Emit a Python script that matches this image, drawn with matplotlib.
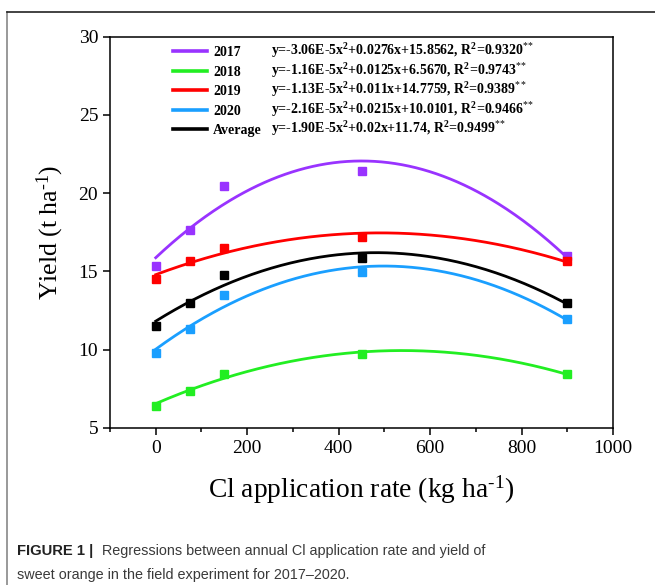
import numpy as np
import matplotlib
matplotlib.use("Agg")
import matplotlib.pyplot as plt
from matplotlib.lines import Line2D
from matplotlib.ticker import MultipleLocator

plt.rcParams['mathtext.fontset'] = 'custom'
plt.rcParams['mathtext.rm'] = 'Liberation Serif'
plt.rcParams['mathtext.it'] = 'Liberation Serif:italic'
plt.rcParams['mathtext.bf'] = 'Liberation Serif:bold'

# ---- data ----
cl_rate = [0, 75, 150, 450, 900]
series_names = ["2017", "2018", "2019", "2020", "Average"]
y2017 = [15.32, 17.66, 20.47, 21.45, 16.00]
y2018 = [6.43, 7.39, 8.47, 9.71, 8.45]
y2019 = [14.51, 15.70, 16.49, 17.23, 15.64]
y2020 = [9.77, 11.30, 13.51, 14.94, 11.96]
yavg = [11.53, 13.00, 14.77, 15.85, 12.98]
SS = r"$^{*}$$^{*}$"
equations = [
    r"y=-3.06E-5x$^{\mathbf{2}}$+0.0276x+15.8562, R$^{\mathbf{2}}$=0.9320" + SS,
    r"y=-1.16E-5x$^{\mathbf{2}}$+0.0125x+6.5670, R$^{\mathbf{2}}$=0.9743" + SS,
    r"y=-1.13E-5x$^{\mathbf{2}}$+0.011x+14.7759, R$^{\mathbf{2}}$=0.9389" + SS,
    r"y=-2.16E-5x$^{\mathbf{2}}$+0.0215x+10.0101, R$^{\mathbf{2}}$=0.9466" + SS,
    r"y=-1.90E-5x$^{\mathbf{2}}$+0.02x+11.74, R$^{\mathbf{2}}$=0.9499" + SS,
]
xticks = [0, 200, 400, 600, 800, 1000]
yticks = [5, 10, 15, 20, 25, 30]

colors = ['#9933ff', '#22ee22', '#ff0000', '#1a9fff', '#000000']
all_y = [y2017, y2018, y2019, y2020, yavg]

fig = plt.figure(figsize=(6.55, 5.85), dpi=100)
ax_h = 391.3
ax = fig.add_axes([110/655, 157/585, 503/655, ax_h/585])

handles = []
xs = np.array(cl_rate, dtype=float)
xfine = np.linspace(0, 900, 300)
for ys, c, name in zip(all_y, colors, series_names):
    ax.plot(cl_rate, ys, 's', color=c, markersize=6.3, zorder=3)
    coef = np.polyfit(xs, np.array(ys), 2)
    ax.plot(xfine, np.polyval(coef, xfine), '-', color=c, lw=2.0, zorder=2)
    handles.append(Line2D([], [], color=c, lw=2.6))

ax.set_xlim(-100, 1000)
ax.set_ylim(5, 30)
ax.set_xticks(xticks)
ax.set_yticks(yticks)
ax.xaxis.set_minor_locator(MultipleLocator(100))
ax.tick_params(axis='both', which='major', direction='out', length=5, width=1.1,
               labelsize=14)
ax.tick_params(axis='x', which='minor', direction='out', length=3, width=1.1)
for lab in ax.get_xticklabels() + ax.get_yticklabels():
    lab.set_fontfamily('Liberation Serif')
for s in ax.spines.values():
    s.set_linewidth(1.1)

ax.set_xlabel(r"Cl application rate (kg ha$^{\text{-}1}$)", fontsize=19.8,
              fontfamily='Liberation Serif', labelpad=12)
ax.set_ylabel(r"Yield (t ha$^{\text{-}1}$)", fontsize=18.5,
              fontfamily='Liberation Serif', labelpad=9)

leg_font = {'family': 'Liberation Serif', 'weight': 'bold', 'size': 10}
ax.legend(handles, series_names, loc='upper left',
          bbox_to_anchor=(0.125, 0.976), frameon=False, prop=leg_font,
          handlelength=2.45, handletextpad=0.45, labelspacing=0.47,
          borderpad=0, borderaxespad=0)
row_px = [51, 70.7, 90, 109.3, 128.7]
for eq, rp in zip(equations, row_px):
    ax.text(0.32, (428 - rp) / ax_h, eq, transform=ax.transAxes,
            fontfamily='Liberation Serif', fontweight='bold', fontsize=10,
            va='center', ha='left')

# figure frame lines
fig.add_artist(Line2D([7/655, 7/655], [0, 1 - 12/585], color='#888888', lw=1.2,
                      transform=fig.transFigure))
fig.add_artist(Line2D([7/655, 1], [1 - 12/585, 1 - 12/585], color='#222222',
                      lw=1.2, transform=fig.transFigure))

# caption
cap_fam = 'Liberation Sans'
cap_size = 10.35
t1 = fig.text(17/655, 1 - 551/585, "FIGURE 1 |", fontsize=cap_size + 0.3,
              fontweight='bold', fontfamily=cap_fam, color='#222222', va='center')
ax.annotate("Regressions between annual Cl application rate and yield of",
            xy=(1, 0.5), xycoords=t1, xytext=(6, 0), textcoords='offset points',
            fontsize=cap_size, fontfamily=cap_fam, color='#3a3a3a', va='center',
            annotation_clip=False)
fig.text(17/655, 1 - 575/585,
         "sweet orange in the field experiment for 2017\u20132020.",
         fontsize=cap_size, fontfamily=cap_fam, color='#3a3a3a', va='center')

fig.savefig("out.png", dpi=100)
